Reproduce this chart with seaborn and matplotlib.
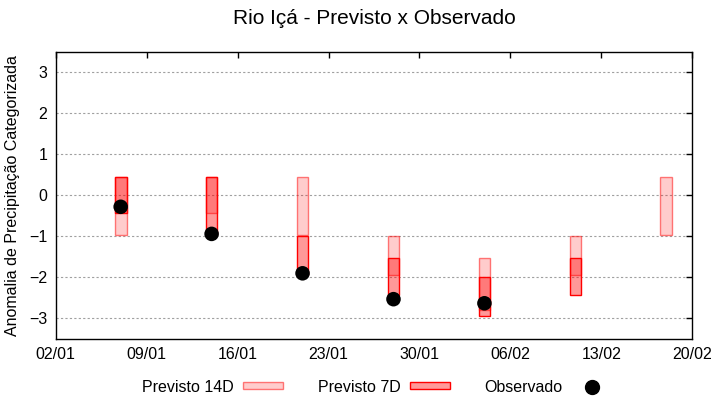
import pandas as pd
import matplotlib
matplotlib.use('Agg')
import matplotlib.pyplot as plt
import matplotlib.dates as mdates
from matplotlib.patches import Patch
from matplotlib.lines import Line2D
import seaborn as sns

# previsões semanais (limites inferior/superior das caixas)
datas = ['2023-01-07', '2023-01-14', '2023-01-21', '2023-01-28',
         '2023-02-04', '2023-02-11', '2023-02-18']
prev14_min = [-0.96, -0.44, -0.96, -1.95, -2.80, -1.95, -0.96]
prev14_max = [0.44, 0.44, 0.44, -1.00, -1.52, -1.00, 0.44]
prev7_min = [-0.44, -0.96, -1.95, -2.44, -2.95, -2.44, None]
prev7_max = [0.44, 0.44, -1.00, -1.52, -2.00, -1.52, None]

# observado
obs_datas = ['2023-01-07', '2023-01-14', '2023-01-21', '2023-01-28', '2023-02-04']
obs_vals = [-0.28, -0.94, -1.90, -2.53, -2.63]

xticks = pd.date_range('2023-01-02', '2023-02-20', freq='7D')

sns.set_theme(style="white")
plt.rcParams['font.family'] = ['Liberation Sans', 'DejaVu Sans']
plt.rcParams['text.color'] = 'black'
plt.rcParams['axes.labelcolor'] = 'black'

df = pd.DataFrame({'data': pd.to_datetime(datas),
                   'p14_min': prev14_min, 'p14_max': prev14_max,
                   'p7_min': prev7_min, 'p7_max': prev7_max})
df_obs = pd.DataFrame({'data': pd.to_datetime(obs_datas), 'obs': obs_vals})

fig = plt.figure(figsize=(7.2, 4), dpi=100)
ax = fig.add_axes([0.0774, 0.1525, 0.8841, 0.7185])

larg = 0.9
c14_face = (1, 0, 0, 0.2)
c14_edge = (1, 0, 0, 0.5)
c7_face = (1, 0, 0, 0.4)
c7_edge = (1, 0, 0, 1)

ax.bar(df['data'], df['p14_max'] - df['p14_min'], bottom=df['p14_min'],
       width=larg, color=c14_face, edgecolor=c14_edge, linewidth=1.0, zorder=2)
d7 = df.dropna(subset=['p7_min'])
ax.bar(d7['data'], d7['p7_max'] - d7['p7_min'], bottom=d7['p7_min'],
       width=larg, color=c7_face, edgecolor=c7_edge, linewidth=1.0, zorder=3)

sns.scatterplot(data=df_obs, x='data', y='obs', ax=ax, color='black',
                s=110, edgecolor='none', zorder=4, legend=False)

ax.set_xlim(pd.Timestamp('2023-01-02'), pd.Timestamp('2023-02-20'))
ax.set_ylim(-3.5, 3.5)
ax.set_xticks(xticks)
ax.xaxis.set_major_formatter(mdates.DateFormatter('%d/%m'))
ax.set_yticks([-3, -2, -1, 0, 1, 2, 3])
ax.set_xlabel('')
ax.set_ylabel('Anomalia de Precipitação Categorizada', fontsize=11.5, color='black')
ax.yaxis.set_label_coords(-0.056, 0.5)

ax.yaxis.grid(True, color='#a0a0a0', linestyle=(0, (2, 2)), linewidth=0.8)
ax.xaxis.grid(False)
ax.set_axisbelow(True)
ax.tick_params(direction='in', length=4, width=1, top=True, right=True,
               labelsize=11.5, colors='black', pad=6)
for s in ax.spines.values():
    s.set_color('black')
    s.set_linewidth(1)

fig.text(374 / 720, 1 - 19 / 400, 'Rio Içá - Previsto x Observado',
         ha='center', va='center', fontsize=15, color='black')

handles = [Patch(facecolor=c14_face, edgecolor=c14_edge, linewidth=1),
           Patch(facecolor=c7_face, edgecolor=c7_edge, linewidth=1),
           Line2D([], [], linestyle='none', marker='o', color='black',
                  markersize=10)]
fig.legend(handles, ['Previsto 14D', 'Previsto 7D', 'Observado'],
           loc='center', bbox_to_anchor=(377 / 720, 1 - 387 / 400), ncol=3,
           frameon=False, markerfirst=False, fontsize=11.5,
           handlelength=2.5, handleheight=0.25, handletextpad=0.55,
           columnspacing=2.2)

fig.savefig('out.png', dpi=100)
